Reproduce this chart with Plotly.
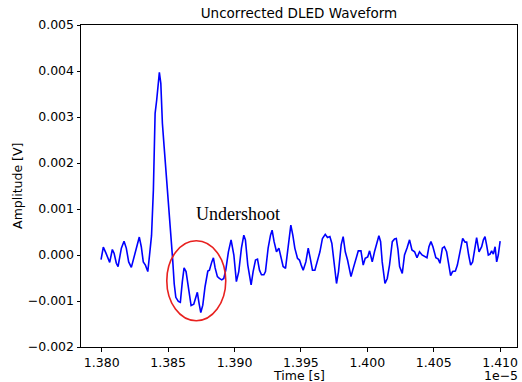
import plotly.graph_objects as go

# Sampled DLED waveform: time in ns, amplitude in mV
time_ns = [
    13799.5, 13801.2, 13803.2, 13804.2, 13806.0, 13808.0, 13809.3, 13811.0, 13812.3, 13814.8,
    13816.8, 13818.5, 13820.3, 13822.3, 13824.3, 13826.8, 13828.3, 13829.8, 13831.3, 13832.9,
    13834.7, 13836.2, 13837.5, 13838.9, 13840.2, 13841.4, 13842.7, 13843.4, 13844.5, 13845.7,
    13847.0, 13848.5, 13850.2, 13852.0, 13853.4, 13854.6, 13855.8, 13857.7, 13859.2, 13860.7,
    13862.0, 13863.5, 13865.3, 13867.3, 13869.3, 13870.8, 13872.0, 13873.3, 13874.6, 13876.1,
    13877.8, 13879.9, 13881.1, 13882.9, 13884.1, 13885.4, 13887.1, 13888.6, 13890.4, 13891.9,
    13893.4, 13895.4, 13897.4, 13899.5, 13901.4, 13903.2, 13905.2, 13907.0, 13908.2, 13910.0,
    13912.5, 13914.0, 13915.8, 13917.3, 13918.8, 13920.3, 13922.1, 13923.3, 13925.3, 13927.1,
    13928.3, 13929.8, 13931.6, 13933.4, 13935.1, 13936.6, 13938.4, 13940.4, 13942.4, 13943.9,
    13945.4, 13947.4, 13948.9, 13950.2, 13951.7, 13953.7, 13955.5, 13957.0, 13958.7, 13960.5,
    13962.5, 13964.3, 13966.2, 13968.3, 13970.0, 13971.8, 13973.3, 13975.3, 13976.8, 13978.3,
    13980.3, 13981.8, 13983.4, 13985.1, 13986.4, 13987.7, 13989.4, 13991.4, 13993.2, 13995.2,
    13996.9, 13998.4, 14000.3, 14001.7, 14003.7, 14005.4, 14007.2, 14008.7, 14010.0, 14011.2,
    14013.3, 14015.0, 14016.7, 14018.8, 14020.5, 14021.8, 14023.1, 14024.3, 14026.3, 14028.0,
    14029.9, 14031.8, 14033.6, 14035.6, 14037.4, 14039.3, 14041.2, 14043.1, 14044.9, 14046.4,
    14047.9, 14049.4, 14051.6, 14053.4, 14054.7, 14056.5, 14058.0, 14059.7, 14061.5, 14062.7,
    14064.2, 14066.3, 14067.8, 14069.8, 14071.8, 14073.6, 14074.8, 14076.3, 14077.8, 14079.3,
    14081.1, 14082.3, 14084.1, 14086.1, 14087.4, 14088.6, 14089.8, 14091.1, 14092.4, 14093.6,
    14094.9, 14096.2, 14097.4, 14098.6, 14100.0,
]

amplitude_mV = [
    -0.10, 0.17, 0.04, -0.02, -0.16, 0.12, 0.04, -0.18, -0.25, 0.15,
    0.30, 0.15, -0.15, -0.27, -0.04, 0.28, 0.39, 0.18, -0.15, -0.22,
    -0.36, 0.05, 0.42, 1.41, 3.08, 3.37, 3.80, 3.97, 3.73, 2.86,
    2.35, 1.78, 1.20, 0.62, -0.09, -0.63, -0.92, -1.01, -1.03, -0.58,
    -0.28, -0.36, -0.72, -1.10, -1.07, -0.94, -0.81, -1.05, -1.25, -1.09,
    -0.69, -0.35, -0.33, -0.15, -0.06, -0.28, -0.47, -0.51, -0.54, -0.51,
    -0.33, 0.07, 0.33, 0.00, -0.58, -0.36, 0.15, 0.43, 0.33, -0.22,
    -0.65, -0.36, -0.11, -0.09, -0.33, -0.43, -0.43, -0.36, 0.15, 0.43,
    0.54, 0.29, 0.07, 0.15, -0.07, -0.25, -0.29, 0.18, 0.65, 0.43,
    0.15, -0.07, -0.11, -0.22, -0.33, -0.15, 0.15, -0.07, -0.33, -0.33,
    -0.11, 0.07, 0.36, 0.45, 0.38, 0.40, 0.25, -0.22, -0.62, -0.36,
    0.22, 0.40, 0.07, -0.11, -0.33, -0.47, -0.29, -0.07, 0.09, 0.09,
    -0.22, -0.07, -0.04, 0.09, -0.15, 0.07, 0.30, 0.42, 0.29, -0.15,
    -0.62, -0.51, -0.22, 0.29, 0.35, 0.36, 0.11, -0.25, -0.40, 0.00,
    0.15, 0.33, 0.11, 0.07, -0.06, 0.07, 0.00, -0.04, -0.06, 0.18,
    0.29, 0.18, -0.06, -0.09, -0.18, 0.15, 0.18, 0.07, -0.29, -0.45,
    -0.36, -0.35, -0.22, 0.07, 0.36, 0.28, 0.28, 0.00, -0.22, -0.15,
    0.15, 0.38, 0.07, 0.18, 0.33, 0.40, 0.22, 0.00, 0.02, 0.09,
    0.02, 0.18, -0.15, 0.00, 0.30,
]

assert len(time_ns) == len(amplitude_mV)

# x in units of 1e-5 s (offset label drawn separately), y in volts
x_vals = [t / 1e4 for t in time_ns]
y_vals = [a / 1000.0 for a in amplitude_mV]

FONT = "DejaVu Sans"
LABEL_SIZE = 12.5

fig = go.Figure()
fig.add_trace(go.Scatter(
    x=x_vals, y=y_vals, mode="lines",
    line=dict(color="#0000ff", width=1.6),
    showlegend=False, hoverinfo="skip",
))

axis_common = dict(
    showline=True, linecolor="black", linewidth=1, mirror=True,
    ticks="outside", ticklen=3.5, tickwidth=1, tickcolor="black",
    showgrid=False, zeroline=False,
    tickfont=dict(family=FONT, size=LABEL_SIZE, color="black"),
)

fig.update_xaxes(range=[1.37844, 1.41127], tick0=1.380, dtick=0.005,
                 tickformat=".3f", **axis_common)
fig.update_yaxes(range=[-0.002, 0.005], tick0=-0.002, dtick=0.001,
                 tickformat=".3f", **axis_common)

# Circle highlighting the undershoot region
fig.add_shape(type="circle", xref="x", yref="y",
              x0=1.38490, x1=1.38934, y0=-0.001428, y1=0.000311,
              line=dict(color="#e8211f", width=1.6))

annotations = [
    dict(text="Undershoot", xref="x", yref="y", x=1.39023, y=0.00090,
         showarrow=False, font=dict(family="Liberation Serif", size=18, color="black")),
    dict(text="Time [s]", xref="paper", yref="paper", x=0.5, y=-0.0885,
         xanchor="center", yanchor="middle", showarrow=False,
         font=dict(family=FONT, size=LABEL_SIZE, color="black")),
    dict(text="1e\u22125", xref="paper", yref="paper", x=1.0069, y=-0.0885,
         xanchor="right", yanchor="middle", showarrow=False,
         font=dict(family=FONT, size=LABEL_SIZE, color="black")),
    dict(text="Amplitude [V]", xref="paper", yref="paper", x=-0.147, y=0.5,
         xanchor="center", yanchor="middle", textangle=-90, showarrow=False,
         font=dict(family=FONT, size=LABEL_SIZE, color="black")),
]

fig.update_layout(
    width=522, height=382,
    margin=dict(l=81, r=5, t=25, b=35),
    paper_bgcolor="white", plot_bgcolor="white",
    title=dict(text="Uncorrected DLED Waveform", x=0.5, xref="paper",
               y=1 - 13 / 382, yref="container", xanchor="center", yanchor="middle",
               font=dict(family=FONT, size=13.5, color="black")),
    annotations=annotations,
)

fig.write_html("out.html")
